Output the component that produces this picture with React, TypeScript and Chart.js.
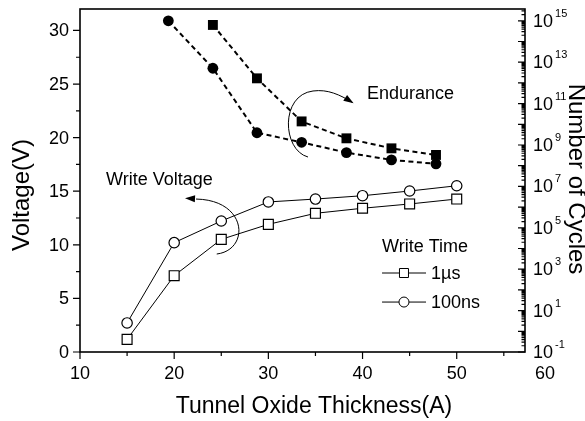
import React, { useEffect, useRef } from "react";
import { Chart, registerables } from "chart.js";

Chart.register(...registerables);

// ---- data ----
const thickness = [15, 20, 25, 30, 35, 40, 45, 50];
const voltage1us = [1.18, 7.12, 10.51, 11.91, 12.94, 13.41, 13.81, 14.27];
const voltage100ns = [2.71, 10.2, 12.22, 14.0, 14.27, 14.58, 15.02, 15.51];

const enduranceCircleX = [19.38, 24.11, 28.79, 33.53, 38.29, 43.07, 47.8];
const enduranceCircle = [1.0e15, 5.1e12, 3.9e9, 1.35e9, 4.3e8, 1.9e8, 1.23e8];
const enduranceSquareX = [24.11, 28.79, 33.53, 38.29, 43.07, 47.8];
const enduranceSquare = [6.3e14, 1.66e12, 1.38e10, 2.1e9, 6.9e8, 3.3e8];

const xTickLabels = [10, 20, 30, 40, 50, 60];
const yTickLabels = [0, 5, 10, 15, 20, 25, 30];
const cycleExponents = [-1, 1, 3, 5, 7, 9, 11, 13, 15];

const legendTitle = "Write Time";
const legendLabels = ["1\u00b5s", "100ns"];

const FF = "'Liberation Sans', Arial, Helvetica, sans-serif";

const pts = (xs: number[], ys: number[]) => xs.map((x, i) => ({ x, y: ys[i] }));

const decor = {
  id: "decor",
  beforeDraw(chart: any) {
    const { ctx, width, height } = chart;
    ctx.save();
    ctx.fillStyle = "#fff";
    ctx.fillRect(0, 0, width, height);
    ctx.restore();
  },
  afterDraw(chart: any) {
    const { ctx, chartArea: a, scales } = chart;
    const xs = scales.x;
    const ys = scales.y;
    const y2 = scales.y2;
    const X = (v: number) => xs.getPixelForValue(v);
    const Y = (v: number) => ys.getPixelForValue(v);
    ctx.save();
    ctx.strokeStyle = "#000";
    ctx.fillStyle = "#000";

    // frame
    ctx.lineWidth = 1.6;
    ctx.strokeRect(a.left, a.top, a.right - a.left, a.bottom - a.top);

    // ticks
    ctx.lineWidth = 1.2;
    ctx.beginPath();
    for (let v = 10; v <= xs.max; v += 5) {
      const p = X(v);
      const len = v % 10 === 0 ? 7 : 4;
      ctx.moveTo(p, a.bottom);
      ctx.lineTo(p, a.bottom + len);
    }
    for (let v = 0; v <= 30; v += 2.5) {
      const p = Y(v);
      const len = v % 5 === 0 ? 7 : 4;
      ctx.moveTo(a.left, p);
      ctx.lineTo(a.left - len, p);
    }
    for (let e = -1; e <= 16; e++) {
      for (let m = 1; m <= 9; m++) {
        const v = m * Math.pow(10, e);
        if (v < y2.min * 0.999 || v > y2.max * 1.001) continue;
        const p = y2.getPixelForValue(v);
        const len = m === 1 ? 7 : 3.5;
        ctx.moveTo(a.right, p);
        ctx.lineTo(a.right - len, p);
      }
    }
    ctx.stroke();

    // tick labels
    ctx.font = `18px ${FF}`;
    ctx.textAlign = "center";
    ctx.textBaseline = "middle";
    xTickLabels.forEach((v) => {
      const p = X(v) - (v > xs.max ? 6 : 0);
      ctx.fillText(String(v), p, a.bottom + 22);
    });
    ctx.textAlign = "right";
    yTickLabels.forEach((v) => {
      ctx.fillText(String(v), a.left - 11, Y(v) + 1);
    });
    ctx.textAlign = "left";
    cycleExponents.forEach((e) => {
      const p = y2.getPixelForValue(Math.pow(10, e));
      ctx.font = `18px ${FF}`;
      ctx.textBaseline = "middle";
      const bx = a.right + 8;
      ctx.fillText("10", bx, p + 1);
      const w = ctx.measureText("10").width;
      ctx.font = `11px ${FF}`;
      ctx.textBaseline = "alphabetic";
      ctx.fillText(String(e), bx + w + 2, p - 4);
    });

    // axis titles
    ctx.font = `23px ${FF}`;
    ctx.textAlign = "center";
    ctx.textBaseline = "middle";
    ctx.fillText("Tunnel Oxide Thickness(A)", 314, 407);

    ctx.save();
    ctx.font = `24px ${FF}`;
    ctx.translate(22, 195);
    ctx.rotate(-Math.PI / 2);
    ctx.fillText("Voltage(V)", 0, 0);
    ctx.restore();

    ctx.save();
    ctx.font = `24px ${FF}`;
    ctx.translate(576, 179);
    ctx.rotate(Math.PI / 2);
    ctx.fillText("Number of Cycles", 0, 0);
    ctx.restore();

    // annotations
    const arrowHead = (tx: number, ty: number, fx: number, fy: number) => {
      const ang = Math.atan2(ty - fy, tx - fx);
      const L = 10, H = 3.5;
      ctx.beginPath();
      ctx.moveTo(tx, ty);
      ctx.lineTo(tx - L * Math.cos(ang) + H * Math.sin(ang), ty - L * Math.sin(ang) - H * Math.cos(ang));
      ctx.lineTo(tx - L * Math.cos(ang) - H * Math.sin(ang), ty - L * Math.sin(ang) + H * Math.cos(ang));
      ctx.closePath();
      ctx.fill();
    };

    ctx.lineWidth = 1;
    // Write voltage arc
    ctx.beginPath();
    ctx.moveTo(X(24.52), Y(9.14));
    ctx.bezierCurveTo(X(28.05), Y(9.52), X(27.84), Y(14.18), X(22.32), Y(14.27));
    ctx.stroke();
    arrowHead(X(21.15), Y(14.34), X(22.6), Y(14.27));

    // Endurance arc
    ctx.beginPath();
    ctx.moveTo(X(34.21), Y(18.19));
    ctx.bezierCurveTo(X(31.45), Y(18.85), X(31.24), Y(23.98), X(34.74), Y(24.35));
    ctx.bezierCurveTo(X(36.33), Y(24.54), X(37.61), Y(23.98), X(38.9), Y(23.3));
    ctx.stroke();
    arrowHead(X(39.05), Y(23.2), X(37.9), Y(23.85));

    ctx.font = `18px ${FF}`;
    ctx.textAlign = "left";
    ctx.textBaseline = "middle";
    ctx.fillText("Endurance", X(40.48), Y(24.07));
    ctx.fillText("Write Voltage", X(12.76), Y(16.05));

    // legend
    ctx.fillText(legendTitle, X(42.07), Y(9.8));
    const rows = [Y(7.37), Y(4.66)];
    const markerX = X(44.4);
    rows.forEach((ry, i) => {
      ctx.lineWidth = 1;
      ctx.beginPath();
      ctx.moveTo(X(42.07), ry);
      ctx.lineTo(markerX - 5, ry);
      ctx.moveTo(markerX + 5, ry);
      ctx.lineTo(X(46.74), ry);
      ctx.stroke();
      ctx.beginPath();
      if (i === 0) {
        ctx.rect(markerX - 4.5, ry - 4.5, 9, 9);
      } else {
        ctx.arc(markerX, ry, 5, 0, Math.PI * 2);
      }
      ctx.stroke();
      ctx.fillText(legendLabels[i], X(47.27), ry + 1);
    });

    ctx.restore();
  },
};

export default function App() {
  const ref = useRef<HTMLCanvasElement>(null);
  useEffect(() => {
    document.body.style.margin = "0";
    const chart = new Chart(ref.current as HTMLCanvasElement, {
      type: "line",
      data: {
        datasets: [
          {
            label: "Endurance (square)",
            data: pts(enduranceSquareX, enduranceSquare),
            yAxisID: "y2",
            borderColor: "#000",
            borderWidth: 2,
            borderDash: [5, 3.5],
            pointStyle: "rect",
            pointRadius: 7,
            pointHoverRadius: 7,
            pointBackgroundColor: "#000",
            pointBorderColor: "#000",
            pointBorderWidth: 0,
            tension: 0,
          },
          {
            label: "Endurance (circle)",
            data: pts(enduranceCircleX, enduranceCircle),
            yAxisID: "y2",
            borderColor: "#000",
            borderWidth: 2,
            borderDash: [5, 3.5],
            pointStyle: "circle",
            pointRadius: 5.4,
            pointHoverRadius: 5.4,
            pointBackgroundColor: "#000",
            pointBorderColor: "#000",
            pointBorderWidth: 0,
            tension: 0,
          },
          {
            label: legendLabels[0],
            data: pts(thickness, voltage1us),
            yAxisID: "y",
            borderColor: "#000",
            borderWidth: 1,
            pointStyle: "rect",
            pointRadius: 7,
            pointHoverRadius: 7,
            pointBackgroundColor: "#fff",
            pointBorderColor: "#000",
            pointBorderWidth: 1.2,
            tension: 0,
          },
          {
            label: legendLabels[1],
            data: pts(thickness, voltage100ns),
            yAxisID: "y",
            borderColor: "#000",
            borderWidth: 1,
            pointStyle: "circle",
            pointRadius: 5.2,
            pointHoverRadius: 5.2,
            pointBackgroundColor: "#fff",
            pointBorderColor: "#000",
            pointBorderWidth: 1.2,
            tension: 0,
          },
        ],
      },
      options: {
        responsive: false,
        devicePixelRatio: 1,
        animation: false,
        events: [],
        layout: { padding: { top: 9, left: 0, right: 0, bottom: 0 } },
        plugins: { legend: { display: false }, tooltip: { enabled: false } },
        scales: {
          x: {
            type: "linear",
            min: 10,
            max: 57.25,
            grid: { display: false },
            border: { display: false },
            ticks: { display: false },
            afterFit: (s: any) => {
              s.height = 69;
            },
          },
          y: {
            type: "linear",
            position: "left",
            min: 0,
            max: 32,
            grid: { display: false },
            border: { display: false },
            ticks: { display: false },
            afterFit: (s: any) => {
              s.width = 80;
            },
          },
          y2: {
            type: "logarithmic",
            position: "right",
            min: 0.1,
            max: Math.pow(10, 15.57),
            grid: { display: false },
            border: { display: false },
            ticks: { display: false },
            afterFit: (s: any) => {
              s.width = 60;
            },
          },
        },
      },
      plugins: [decor],
    } as any);
    return () => chart.destroy();
  }, []);
  return (
    <div style={{ width: 585, height: 421, background: "#fff" }}>
      <canvas ref={ref} width={585} height={421} style={{ display: "block" }} />
    </div>
  );
}
